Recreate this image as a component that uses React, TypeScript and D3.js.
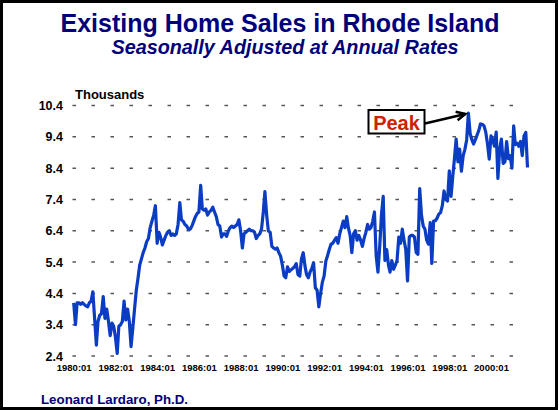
import { useEffect, useRef } from 'react';
import * as d3 from 'd3';

// monthly existing home sales, RI, thousands (SAAR)
const sales1980s = [
  4.1, 3.4, 4.1, 4.1, 4.05, 4.1, 4.05, 4.0, 3.97, 4.1, 4.15, 4.45,
  3.6, 2.75, 3.5, 3.7, 3.75, 4.3, 3.6, 3.9, 3.5, 3.05, 3.45, 3.35,
  3.0, 2.48, 3.35, 3.4, 3.5, 4.15, 3.55, 3.9, 3.5, 2.7, 3.3, 3.9,
  4.5, 4.9, 5.3, 5.5, 5.7, 5.85, 6.05, 6.15, 6.5, 6.7, 6.9, 7.2,
  6.0, 6.35, 6.2, 5.95, 6.1, 6.25, 6.35, 6.4, 6.25, 6.3, 6.25, 6.3,
];
const sales1985s = [
  6.6, 7.3, 6.75, 6.7, 6.6, 6.55, 6.45, 6.45, 6.55, 6.7, 6.85, 6.95,
  7.0, 7.85, 7.1, 7.05, 7.1, 6.9, 7.0, 7.05, 7.15, 7.0, 6.85, 6.6,
  6.55, 6.2, 6.3, 6.3, 6.22, 6.4, 6.5, 6.55, 6.5, 6.55, 6.6, 6.75,
  6.4, 5.85, 6.3, 6.35, 6.4, 6.45, 6.4, 6.4, 6.35, 6.15, 6.25, 6.3,
  6.45, 7.0, 7.65, 6.9, 6.39, 6.35, 5.9, 5.85, 5.81, 5.85, 5.7, 5.59,
];
const sales1990s = [
  5.3, 4.95, 4.9, 5.25, 5.1, 5.15, 5.2, 5.25, 5.35, 5.0, 4.95, 5.5,
  5.7, 5.27, 5.0, 4.9, 5.08, 5.2, 5.38, 4.58, 4.5, 3.97, 4.4, 4.75,
  4.95, 5.43, 5.6, 5.8, 5.97, 6.0, 6.1, 6.18, 6.0, 6.3, 6.5, 6.71,
  6.5, 6.85, 6.5, 6.25, 5.7, 6.3, 6.4, 6.1, 6.25, 6.1, 5.9, 6.15,
  6.35, 6.6, 6.45, 6.5, 6.7, 7.0, 5.6, 5.08, 5.9, 6.9, 7.5, 5.45,
];
const sales1995s = [
  5.8, 5.3, 5.08, 5.45, 5.17, 5.3, 5.45, 6.2, 6.0, 6.45, 6.1, 5.8,
  4.8, 6.2, 6.25, 6.25, 6.2, 5.7, 5.65, 7.75, 6.9, 6.55, 6.45, 6.1,
  5.97, 6.66, 5.36, 6.71, 6.72, 6.8, 6.93, 6.98, 7.2, 7.67, 7.4, 7.35,
  8.31, 7.5, 8.1, 8.7, 9.33, 8.6, 9.01, 8.3, 8.8, 9.0, 9.3, 10.16,
  9.5, 9.3, 9.17, 9.3, 9.45, 9.6, 9.81, 9.8, 9.75, 9.55, 9.17, 8.69,
];
const sales2000s = [
  9.43, 9.3, 9.1, 9.55, 8.07, 9.0, 9.33, 8.55, 8.6, 9.25, 8.7, 8.8,
  8.4, 9.75, 9.15, 9.2, 9.1, 9.25, 8.8, 9.43, 9.54, 8.42,
];

const xTickYears = [1980, 1982, 1984, 1986, 1988, 1990, 1992, 1994, 1996, 1998, 2000];
const yTicks = [2.4, 3.4, 4.4, 5.4, 6.4, 7.4, 8.4, 9.4, 10.4];

const NAVY = '#00007a';
const FONT = '"Liberation Sans", Arial, sans-serif';

function App() {
  const ref = useRef<SVGSVGElement>(null);

  useEffect(() => {
    document.body.style.margin = '0';
    const svg = d3.select(ref.current);
    svg.selectAll('*').remove();

    const values = [...sales1980s, ...sales1985s, ...sales1990s, ...sales1995s, ...sales2000s];
    const data = values.map((v, i) => ({ date: new Date(1980, i, 1), value: v }));

    const x = d3
      .scaleTime()
      .domain([new Date(1980, 0, 1), new Date(2000, 0, 1)])
      .range([73.7, 491]);
    const y = d3.scaleLinear().domain([2.4, 10.4]).range([356, 105.5]);

    // frame
    svg.append('rect')
      .attr('x', 1.5).attr('y', 1.5)
      .attr('width', 555).attr('height', 407)
      .attr('fill', 'white')
      .attr('stroke', 'black')
      .attr('stroke-width', 3);

    // titles
    svg.append('text')
      .attr('x', 280).attr('y', 32)
      .attr('text-anchor', 'middle')
      .attr('font-family', FONT).attr('font-weight', 'bold')
      .attr('font-size', 25).attr('fill', NAVY)
      .text('Existing Home Sales in Rhode Island');
    svg.append('text')
      .attr('x', 285).attr('y', 54)
      .attr('text-anchor', 'middle')
      .attr('font-family', FONT).attr('font-weight', 'bold')
      .attr('font-style', 'italic')
      .attr('font-size', 19.8).attr('fill', NAVY)
      .text('Seasonally Adjusted at Annual Rates');

    svg.append('text')
      .attr('x', 75).attr('y', 99)
      .attr('font-family', FONT).attr('font-weight', 'bold')
      .attr('font-size', 13).attr('fill', 'black')
      .text('Thousands');

    // dashed gridlines
    svg.append('g')
      .selectAll('line')
      .data(yTicks)
      .enter()
      .append('line')
      .attr('x1', 72.5).attr('x2', 513)
      .attr('y1', (d) => y(d)).attr('y2', (d) => y(d))
      .attr('stroke', '#555')
      .attr('stroke-width', 1.5)
      .attr('stroke-dasharray', '3.5,15.5');

    // y axis labels
    const yAxis = svg.append('g')
      .attr('transform', 'translate(72,0)')
      .call(d3.axisLeft(y).tickValues(yTicks).tickFormat(d3.format('.1f')).tickSize(0).tickPadding(9));
    yAxis.select('.domain').remove();
    yAxis.selectAll('text')
      .attr('font-family', FONT).attr('font-weight', 'bold')
      .attr('font-size', 12.5).attr('fill', 'black');

    // x axis labels
    const xAxis = svg.append('g')
      .attr('transform', 'translate(0,356)')
      .call(
        d3.axisBottom(x)
          .tickValues(xTickYears.map((yr) => new Date(yr, 0, 1)))
          .tickFormat((d) => `${(d as Date).getFullYear()}:01`)
          .tickSize(0)
          .tickPadding(8)
      );
    xAxis.select('.domain').remove();
    xAxis.selectAll('text')
      .attr('font-family', FONT).attr('font-weight', 'bold')
      .attr('font-size', 9.5).attr('fill', 'black');

    // the series
    const line = d3.line<{ date: Date; value: number }>()
      .x((d) => x(d.date))
      .y((d) => y(d.value));
    svg.append('path')
      .datum(data)
      .attr('d', line)
      .attr('fill', 'none')
      .attr('stroke', '#0a3cc4')
      .attr('stroke-width', 3.2)
      .attr('stroke-linejoin', 'round');

    // peak annotation
    const peak = data.reduce((a, b) => (b.value > a.value ? b : a));
    const px = x(peak.date);
    const py = y(peak.value);
    svg.append('rect')
      .attr('x', 368.5).attr('y', 110)
      .attr('width', 56).attr('height', 23.5)
      .attr('fill', 'white')
      .attr('stroke', 'black')
      .attr('stroke-width', 2);
    svg.append('text')
      .attr('x', 396.5).attr('y', 129.5)
      .attr('text-anchor', 'middle')
      .attr('font-family', FONT).attr('font-weight', 'bold')
      .attr('font-size', 20).attr('fill', '#cc2200')
      .text('Peak');
    const tipX = px - 3;
    const tipY = py + 1;
    svg.append('line')
      .attr('x1', 425).attr('y1', 123.5)
      .attr('x2', tipX).attr('y2', tipY)
      .attr('stroke', 'black').attr('stroke-width', 2.5);
    const ang = Math.atan2(tipY - 123.5, tipX - 425);
    const head = 10;
    const spread = 0.45;
    svg.append('path')
      .attr('d', `M${tipX - head * Math.cos(ang - spread)},${tipY - head * Math.sin(ang - spread)}L${tipX},${tipY}L${tipX - head * Math.cos(ang + spread)},${tipY - head * Math.sin(ang + spread)}`)
      .attr('fill', 'none')
      .attr('stroke', 'black').attr('stroke-width', 2.5);

    svg.append('text')
      .attr('x', 41).attr('y', 404)
      .attr('font-family', FONT).attr('font-weight', 'bold')
      .attr('font-size', 13.3).attr('fill', NAVY)
      .text('Leonard Lardaro, Ph.D.');
  }, []);

  return <svg ref={ref} width={559} height={410} style={{ display: 'block' }}></svg>;
}

export default App;
